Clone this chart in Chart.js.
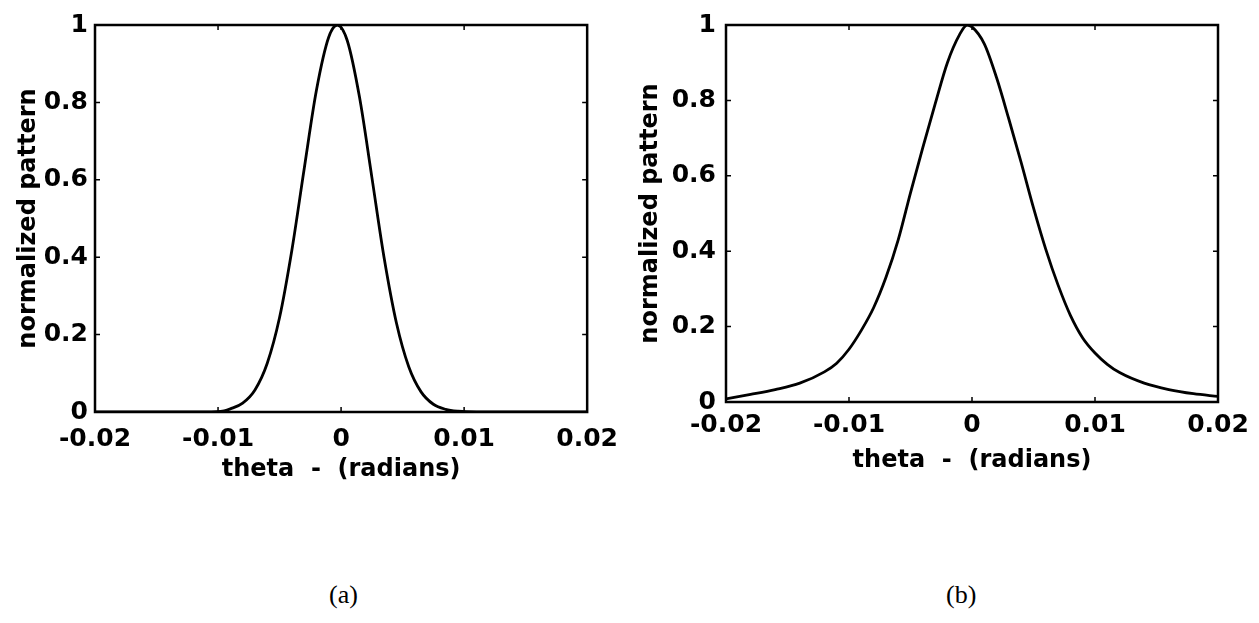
<!DOCTYPE html>
<html>
<head>
<meta charset="utf-8">
<script src="https://cdn.jsdelivr.net/npm/chart.js@4.4.1/dist/chart.umd.min.js"></script>
<style>
html,body{margin:0;padding:0;background:#fff;width:1259px;height:623px;overflow:hidden;}
.panel{position:absolute;top:0;height:500px;}
#wa{left:0;width:630px;}
#wb{left:630px;width:629px;}
.cap{position:absolute;top:580px;font-family:"Liberation Serif",serif;font-size:26px;color:#000;}
</style>
</head>
<body>
<div class="panel" id="wa"><canvas id="ca"></canvas></div>
<div class="panel" id="wb"><canvas id="cb"></canvas></div>
<div class="cap" id="capA" style="left:329px;">(a)</div>
<div class="cap" id="capB" style="left:946px;">(b)</div>
<script>
// ---- data ----
const thetaA = [-0.02,-0.015,-0.011,-0.0095,-0.009,-0.008,-0.007,-0.006,-0.005,-0.004,-0.003,-0.002,-0.001,-0.0003,0.0005,0.0015,0.0025,0.0035,0.0045,0.0055,0.0065,0.0075,0.0085,0.0095,0.011,0.015,0.02];
const patternA = [0,0,0,0.003,0.008,0.023,0.057,0.126,0.244,0.418,0.628,0.832,0.969,1.0,0.96,0.813,0.607,0.398,0.23,0.117,0.052,0.02,0.007,0.002,0,0,0];

const thetaB = [-0.02,-0.018,-0.016,-0.014,-0.012,-0.011,-0.010,-0.009,-0.008,-0.007,-0.006,-0.005,-0.004,-0.003,-0.002,-0.001,-0.0004,0,0.001,0.002,0.003,0.004,0.005,0.006,0.007,0.008,0.009,0.010,0.011,0.012,0.014,0.016,0.018,0.02];
const patternB = [0.008,0.02,0.033,0.05,0.08,0.103,0.14,0.19,0.25,0.33,0.43,0.555,0.675,0.79,0.90,0.975,1.0,0.995,0.95,0.86,0.75,0.635,0.515,0.405,0.31,0.23,0.17,0.13,0.10,0.078,0.05,0.033,0.022,0.015];

const xTickValues = [-0.02,-0.01,0,0.01,0.02];
const xTickLabels = ["-0.02","-0.01","0","0.01","0.02"];
const yTickValues = [0,0.2,0.4,0.6,0.8,1];
const yTickLabels = ["0","0.2","0.4","0.6","0.8","1"];
const xTitle = "theta  -  (radians)";
const yTitle = "normalized pattern";

const FONT = "'DejaVu Sans', sans-serif";

const framePlugin = {
  id: 'frame',
  afterDatasetsDraw(chart) {
    const {ctx, chartArea: a, scales} = chart;
    ctx.save();
    ctx.strokeStyle = '#000';
    ctx.lineWidth = 2.5;
    ctx.strokeRect(a.left, a.top, a.right - a.left, a.bottom - a.top);
    ctx.lineWidth = 1.5;
    const L = 5;
    ctx.beginPath();
    scales.x.ticks.forEach(t => {
      const px = scales.x.getPixelForValue(t.value);
      ctx.moveTo(px, a.bottom); ctx.lineTo(px, a.bottom - L);
      ctx.moveTo(px, a.top); ctx.lineTo(px, a.top + L);
    });
    scales.y.ticks.forEach(t => {
      const py = scales.y.getPixelForValue(t.value);
      ctx.moveTo(a.left, py); ctx.lineTo(a.left + L, py);
      ctx.moveTo(a.right, py); ctx.lineTo(a.right - L, py);
    });
    ctx.stroke();
    ctx.restore();
  }
};

function makeChart(id, xs, ys, g) {
  const data = xs.map((x, i) => ({x: x, y: ys[i]}));
  return new Chart(document.getElementById(id), {
    type: 'line',
    data: { datasets: [{ data: data, borderColor: '#000', borderWidth: 2.8, pointRadius: 0,
      cubicInterpolationMode: 'monotone', fill: false }] },
    plugins: [framePlugin],
    options: {
      responsive: true, maintainAspectRatio: false, animation: false,
      devicePixelRatio: 1,
      layout: { padding: { top: g.top, right: g.padRight, left: 0, bottom: 0 } },
      plugins: { legend: { display: false }, tooltip: { enabled: false } },
      scales: {
        x: {
          type: 'linear', min: -0.02, max: 0.02,
          afterBuildTicks: s => { s.ticks = xTickValues.map(v => ({value: v})); },
          afterFit: s => { s.height = g.xAxisH; },
          border: { display: false },
          grid: { display: false, drawTicks: false },
          ticks: { color: '#000', padding: g.xTickPad, maxRotation: 0, autoSkip: false,
            font: { family: FONT, size: 25, weight: 'bold' },
            callback: (v) => { const i = xTickValues.findIndex(t => Math.abs(t - v) < 1e-9); return i >= 0 ? xTickLabels[i] : ''; } },
          title: { display: true, text: xTitle, color: '#000',
            font: { family: FONT, size: 24, weight: 'bold' }, padding: { top: 0, bottom: g.xTitlePad } }
        },
        y: {
          type: 'linear', min: 0, max: 1,
          afterBuildTicks: s => { s.ticks = yTickValues.map(v => ({value: v})); },
          afterFit: s => { s.width = g.yAxisW; },
          border: { display: false },
          grid: { display: false, drawTicks: false },
          ticks: { color: '#000', padding: g.yTickPad, autoSkip: false,
            font: { family: FONT, size: 25, weight: 'bold' },
            callback: (v) => { const i = yTickValues.findIndex(t => Math.abs(t - v) < 1e-9); return i >= 0 ? yTickLabels[i] : ''; } },
          title: { display: true, text: yTitle, color: '#000',
            font: { family: FONT, size: 24, weight: 'bold' }, padding: { top: g.yTitlePad, bottom: 0 } }
        }
      }
    }
  });
}

makeChart('ca', thetaA, patternA, { top: 25, padRight: 42, yAxisW: 95, xAxisH: 88, xTickPad: 12, xTitlePad: 16, yTickPad: 7, yTitlePad: 14 });
makeChart('cb', thetaB, patternB, { top: 12, padRight: 41, yAxisW: 96, xAxisH: 98, xTickPad: 8, xTitlePad: 25, yTickPad: 10, yTitlePad: 6 });
</script>
</body>
</html>
